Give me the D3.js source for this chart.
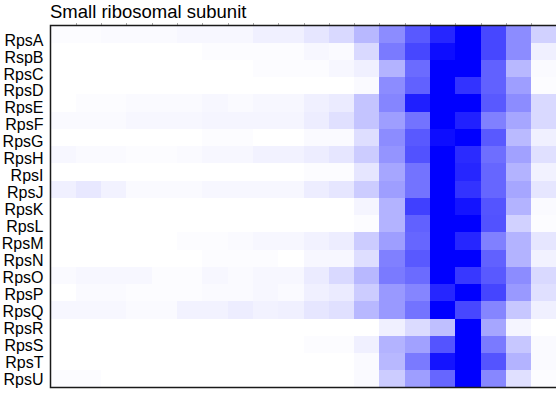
<!DOCTYPE html>
<html>
<head>
<meta charset="utf-8">
<script src="https://cdn.jsdelivr.net/npm/d3@7"></script>
<style>
  html, body { margin: 0; padding: 0; background: #fff; }
  svg { display: block; font-family: "Liberation Sans", Arial, sans-serif; }
</style>
</head>
<body>
<svg id="chart" width="556" height="393"></svg>
<script>
// Proteins of the small ribosomal subunit (rows)
const proteins = ["RpsA","RspB","RpsC","RpsD","RpsE","RpsF","RpsG","RpsH","RpsI","RpsJ",
                  "RpsK","RpsL","RpsM","RpsN","RpsO","RpsP","RpsQ","RpsR","RpsS","RpsT","RpsU"];

// Gradient fractions (columns)
const fractions = [1,2,3,4,5,6,7,8,9,10,11,12,13,14,15,16,17,18,19,20];

// Relative abundance per fraction, one list per protein (0 = absent, 1 = max)
const RpsA = [0.01,0.01,0.02,0.02,0.02,0.03,0.03,0.03,0.06,0.06,0.10,0.15,0.28,0.45,0.65,0.85,1.00,0.72,0.45,0.18];
const RspB = [0,0,0,0,0,0,0.01,0.01,0.01,0.01,0.03,0.02,0.15,0.52,0.72,0.95,1.00,0.72,0.45,0.06];
const RpsC = [0,0,0,0,0,0,0,0,0.01,0.01,0.01,0.03,0.06,0.30,0.58,1.00,1.00,0.62,0.28,0.02];
const RpsD = [0,0,0,0,0,0,0,0,0,0,0,0,0.02,0.45,0.62,1.00,0.80,0.62,0.38,0.01];
const RpsE = [0,0.01,0.01,0.02,0.02,0.02,0.03,0.02,0.03,0.03,0.06,0.08,0.23,0.48,0.88,1.00,1.00,0.65,0.45,0.15];
const RpsF = [0.02,0.02,0.02,0.03,0.03,0.03,0.04,0.04,0.04,0.04,0.07,0.12,0.23,0.38,0.55,1.00,0.87,0.50,0.35,0.15];
const RpsG = [0,0,0,0,0,0,0.01,0.01,0,0,0.02,0.02,0.13,0.45,0.65,0.95,1.00,0.65,0.27,0.06];
const RpsH = [0.03,0.02,0.02,0.01,0.01,0.02,0.03,0.03,0.05,0.05,0.07,0.10,0.20,0.42,0.68,1.00,0.83,0.57,0.37,0.12];
const RpsI = [0,0,0,0,0,0,0,0,0,0,0.01,0.01,0.10,0.35,0.55,1.00,0.85,0.60,0.30,0.05];
const RpsJ = [0.06,0.09,0.05,0.02,0.02,0.02,0.03,0.03,0.03,0.03,0.07,0.10,0.20,0.38,0.55,1.00,0.80,0.60,0.35,0.10];
const RpsK = [0,0,0,0,0,0,0,0,0,0,0,0,0.04,0.30,0.75,1.00,0.92,0.67,0.30,0.02];
const RpsL = [0,0,0,0,0,0,0,0,0,0,0,0,0.01,0.30,0.62,1.00,1.00,0.68,0.18,0.01];
const RpsM = [0,0,0,0,0,0.01,0.01,0.02,0.03,0.03,0.05,0.07,0.20,0.38,0.60,1.00,0.85,0.50,0.30,0.10];
const RpsN = [0,0,0,0,0,0,0.01,0.01,0.01,0,0.03,0.03,0.13,0.50,0.65,1.00,1.00,0.62,0.30,0.05];
const RpsO = [0.02,0.03,0.03,0.03,0.01,0.01,0.03,0.02,0.03,0.03,0.08,0.15,0.28,0.52,0.58,1.00,0.78,0.65,0.45,0.15];
const RpsP = [0,0.02,0.02,0.01,0.01,0.01,0.02,0.02,0.03,0.02,0.06,0.08,0.20,0.40,0.48,0.85,1.00,0.73,0.40,0.12];
const RpsQ = [0.03,0.03,0.03,0.02,0.02,0.05,0.05,0.07,0.05,0.06,0.10,0.12,0.28,0.40,0.55,1.00,0.72,0.48,0.22,0.06];
const RpsR = [0,0,0,0,0,0,0,0,0,0,0,0,0,0.06,0.14,0.25,1.00,0.35,0.04,0];
const RpsS = [0,0,0,0,0,0,0,0,0,0,0.01,0.01,0.06,0.30,0.37,0.67,1.00,0.52,0.22,0.02];
const RpsT = [0,0,0,0,0,0,0,0,0,0,0,0,0.02,0.28,0.52,0.92,1.00,0.67,0.30,0.02];
const RpsU = [0.01,0.01,0,0,0,0,0,0,0,0,0,0,0.02,0.20,0.38,0.60,1.00,0.47,0.12,0.01];

const profiles = [RpsA,RspB,RpsC,RpsD,RpsE,RpsF,RpsG,RpsH,RpsI,RpsJ,RpsK,
                  RpsL,RpsM,RpsN,RpsO,RpsP,RpsQ,RpsR,RpsS,RpsT,RpsU];

const title = "Small ribosomal subunit";

// Layout of the plotting frame
const plotLeft = 50.5, plotTop = 25.5, plotRight = 556.5, plotBottom = 387.5;

const svg = d3.select("#chart");

const x = d3.scaleBand().domain(fractions).range([plotLeft, plotRight]).paddingInner(0).paddingOuter(0);
const y = d3.scaleBand().domain(proteins).range([plotTop, plotBottom]).paddingInner(0).paddingOuter(0);
const labelY = d3.scalePoint().domain(proteins).range([40, 379]);
const color = d3.scaleLinear().domain([0, 1]).range(["#ffffff", "#0000ff"]).interpolate(d3.interpolateRgb);

// Cells
const cells = [];
proteins.forEach((p, i) => {
  fractions.forEach((f, j) => cells.push({ protein: p, fraction: f, value: profiles[i][j] }));
});

svg.append("g")
  .attr("shape-rendering", "crispEdges")
  .selectAll("rect")
  .data(cells)
  .join("rect")
  .attr("x", d => x(d.fraction))
  .attr("y", d => y(d.protein))
  .attr("width", x.bandwidth() + 0.5)
  .attr("height", y.bandwidth() + 0.5)
  .attr("fill", d => color(d.value));

// Small ticks along the top edge at fraction boundaries
const boundaries = fractions.map(f => x(f)).slice(1);
svg.append("g")
  .selectAll("line")
  .data(boundaries)
  .join("line")
  .attr("x1", d => Math.round(d) + 0.5)
  .attr("x2", d => Math.round(d) + 0.5)
  .attr("y1", plotTop - 2.5)
  .attr("y2", plotTop)
  .attr("stroke", "#aaa")
  .attr("stroke-width", 1);

// Frame
svg.append("rect")
  .attr("x", plotLeft)
  .attr("y", plotTop)
  .attr("width", plotRight - plotLeft + 4)
  .attr("height", plotBottom - plotTop)
  .attr("fill", "none")
  .attr("stroke", "#1a1a1a")
  .attr("stroke-width", 1.5);

// Row labels
svg.append("g")
  .selectAll("text")
  .data(proteins)
  .join("text")
  .attr("x", 43.5)
  .attr("y", d => labelY(d))
  .attr("dy", "0.35em")
  .attr("text-anchor", "end")
  .attr("font-size", 16)
  .attr("fill", "#000")
  .text(d => d);

// Title
svg.append("text")
  .attr("x", 50)
  .attr("y", 18.3)
  .attr("font-size", 18.5)
  .attr("fill", "#000")
  .text(title);
</script>
</body>
</html>
